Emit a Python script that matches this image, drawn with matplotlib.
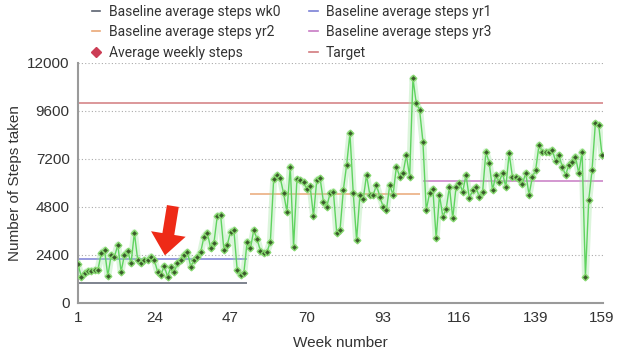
import matplotlib.pyplot as plt
from matplotlib.lines import Line2D
import numpy as np

plt.rcParams['font.family'] = ['Liberation Sans', 'DejaVu Sans']

# weekly data
steps = [1930, 1320, 1500, 1600, 1620, 1650, 1650, 2480, 2650, 1350,
         2400, 2320, 2900, 1570, 2400, 2580, 1980, 3520, 2150, 1980,
         2150, 2150, 2320, 2150, 1570, 1420, 1850, 1320, 1800, 1550,
         1980, 2150, 2400, 2550, 1820, 2150, 2280, 2550, 3320, 3520,
         2730, 3020, 4350, 4400, 2650, 2900, 3570, 3650, 1650, 1400,
         1480, 3070, 2730, 3650, 3200, 2600, 2500, 2570, 3050, 6200,
         6400, 6230, 5480, 4570, 6820, 2820, 6180, 6150, 6070, 5700,
         5830, 4350, 6150, 6230, 5070, 4820, 5480, 5570, 3520, 3630,
         5650, 6900, 8480, 5480, 3150, 5400, 5200, 6400, 5400, 5400,
         5900, 5320, 4820, 4650, 5900, 5400, 6820, 6320, 6480, 7400,
         6320, 11230, 9980, 9650, 8070, 4650, 5480, 5700, 3230, 5400,
         4320, 4700, 5820, 4230, 5820, 6000, 5570, 6400, 5230, 5650,
         5800, 5300, 5550, 7570, 7000, 5650, 6400, 6050, 6500, 5800,
         7480, 6300, 6300, 6200, 5950, 6500, 5400, 6300, 6650, 7900,
         7570, 7570, 7570, 7650, 7100, 7400, 6820, 6400, 6900, 7070,
         7320, 6480, 7570, 1320, 5150, 6650, 8980, 8900, 7400]
weeks = np.arange(1, len(steps) + 1)

base_wk0 = 1000
base_yr1 = 2200
base_yr2 = 5450
base_yr3 = 6100
target = 10000
xticks = [1, 24, 47, 70, 93, 116, 139, 159]
yticks = [0, 2400, 4800, 7200, 9600, 12000]

c_wk0 = '#5b6270'
c_yr1 = '#7a80d6'
c_yr2 = '#eaa877'
c_yr3 = '#c77ac4'
c_tgt = '#d27a7e'

fig = plt.figure(figsize=(6.4, 3.6), dpi=100)
ax = fig.add_axes([78/640, 57/360, 525/640, 240/360])

for y in yticks[1:]:
    ax.axhline(y, color='#aaaaaa', lw=0.8, ls=(0, (1, 2)), zorder=0)

ax.hlines(target, 1, 159.3, color=c_tgt, lw=1.1)
ax.hlines(base_wk0, 1, 52, color=c_wk0, lw=1.1)
ax.hlines(base_yr1, 1, 52, color=c_yr1, lw=1.1)
ax.hlines(base_yr2, 53, 104, color=c_yr2, lw=1.1)
ax.hlines(base_yr3, 105, 159.3, color=c_yr3, lw=1.1)

# glow + line + markers
ax.plot(weeks, steps, color='#9be39b', lw=5, alpha=0.35, zorder=3)
ax.plot(weeks, steps, color='#5fd35f', lw=1, zorder=4)
ax.plot(weeks, steps, ls='none', marker='D', ms=3.4, mfc='#3b5a2c',
        mec='#86d86f', mew=1.0, zorder=5)

# red arrow
ax.annotate('', xy=(27.2, 2380), xytext=(29.6, 4850),
            arrowprops=dict(arrowstyle='simple,head_length=0.65,head_width=1.05,tail_width=0.36',
                            mutation_scale=24, color='#ee2a17', lw=0, shrinkA=0, shrinkB=0),
            zorder=6)

ax.set_xlim(1, 159.3)
ax.set_ylim(0, 12000)
ax.set_xticks(xticks)
ax.set_yticks(yticks)
ax.tick_params(length=0, labelsize=11, colors='#333333', pad=6)
for s in ['top', 'right']:
    ax.spines[s].set_visible(False)
for s in ['left', 'bottom']:
    ax.spines[s].set_color('#9a9a9a')
    ax.spines[s].set_linewidth(1.5)

ax.set_xlabel('Week number', fontsize=11, color='#333333', labelpad=8)
ax.set_ylabel('Number of Steps taken', fontsize=11, color='#333333', labelpad=4)

handles = [
    Line2D([], [], color=c_wk0, lw=1.2),
    Line2D([], [], color=c_yr2, lw=1.2),
    Line2D([], [], ls='none', marker='D', ms=5.5, color='#cc3d55'),
    Line2D([], [], color=c_yr1, lw=1.2),
    Line2D([], [], color=c_yr3, lw=1.2),
    Line2D([], [], color=c_tgt, lw=1.2),
]
labels = ['Baseline average steps wk0', 'Baseline average steps yr2',
          'Average weekly steps', 'Baseline average steps yr1',
          'Baseline average steps yr3', 'Target']
fig.legend(handles, labels, ncol=2, loc='upper left',
           bbox_to_anchor=(92/640, 1 - 5/360), borderpad=0, borderaxespad=0,
           frameon=False, prop={'family': ['Roboto', 'DejaVu Sans'], 'size': 10},
           handlelength=0.6, handletextpad=0.6, columnspacing=2.1,
           labelspacing=0.45, labelcolor='#333333')

fig.savefig('out.png', dpi=100)
